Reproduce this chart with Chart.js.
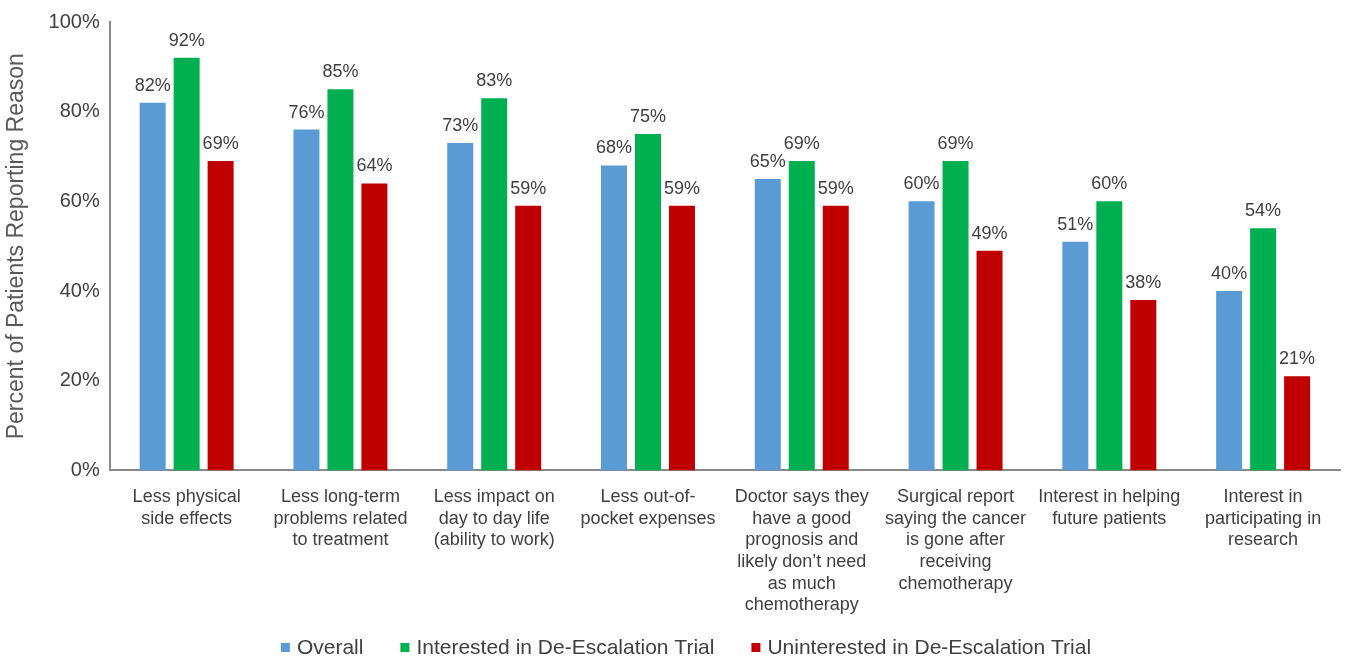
<!DOCTYPE html>
<html><head><meta charset="utf-8">
<script src="https://cdn.jsdelivr.net/npm/chart.js@4/dist/chart.umd.min.js"></script>
<style>html,body{margin:0;padding:0;background:#fff;}#wrap{width:1348px;height:665px;}</style>
</head><body><div id="wrap"><canvas id="c" width="1348" height="665"></canvas></div>
<script>
const categories = [
  ["Less physical", "side effects"],
  ["Less long-term", "problems related", "to treatment"],
  ["Less impact on", "day to day life", "(ability to work)"],
  ["Less out-of-", "pocket expenses"],
  ["Doctor says they", "have a good", "prognosis and", "likely don\u2019t need", "as much", "chemotherapy"],
  ["Surgical report", "saying the cancer", "is gone after", "receiving", "chemotherapy"],
  ["Interest in helping", "future patients"],
  ["Interest in", "participating in", "research"]
];
const overall = [82, 76, 73, 68, 65, 60, 51, 40];
const interested = [92, 85, 83, 75, 69, 69, 60, 54];
const uninterested = [69, 64, 59, 59, 59, 49, 38, 21];
const seriesNames = ["Overall", "Interested in De-Escalation Trial", "Uninterested in De-Escalation Trial"];
const yTicks = [0, 20, 40, 60, 80, 100];
const FONT = "'Liberation Sans', Arial, sans-serif";
const TXT = "#404040";

const labelPlugin = {
  id: 'valLabels',
  afterDatasetsDraw(chart) {
    const ctx = chart.ctx;
    ctx.save();
    ctx.font = "18px " + FONT;
    ctx.fillStyle = TXT;
    ctx.textAlign = 'center';
    ctx.textBaseline = 'bottom';
    chart.data.datasets.forEach((ds, i) => {
      chart.getDatasetMeta(i).data.forEach((bar, j) => {
        ctx.fillText(ds.data[j] + '%', bar.x, bar.y - 8);
      });
    });
    ctx.restore();
  }
};

// bottom legend drawn from the datasets (names + colours)
const legendPlugin = {
  id: 'bottomLegend',
  afterDraw(chart) {
    const ctx = chart.ctx;
    const sw = 9, textOff = 16, gap = 37, yc = 648, centerX = 686;
    ctx.save();
    ctx.font = "21px " + FONT;
    ctx.textBaseline = 'middle';
    ctx.textAlign = 'left';
    const items = chart.data.datasets.map(ds => ({ text: ds.label, color: ds.backgroundColor, w: ctx.measureText(ds.label).width }));
    const total = items.reduce((s, it) => s + textOff + it.w, 0) + gap * (items.length - 1);
    let x = centerX - total / 2;
    items.forEach(it => {
      ctx.fillStyle = it.color;
      ctx.fillRect(x, yc - 5, sw, sw);
      ctx.fillStyle = TXT;
      ctx.fillText(it.text, x + textOff, yc);
      x += textOff + it.w + gap;
    });
    ctx.restore();
  }
};

new Chart(document.getElementById('c'), {
  type: 'bar',
  data: {
    labels: categories,
    datasets: [
      { label: seriesNames[0], data: overall, backgroundColor: '#5B9BD5' },
      { label: seriesNames[1], data: interested, backgroundColor: '#00B050' },
      { label: seriesNames[2], data: uninterested, backgroundColor: '#C00000' }
    ]
  },
  options: {
    responsive: false,
    animation: false,
    devicePixelRatio: 1,
    layout: { padding: { left: 0, right: 8, top: -3, bottom: 33 } },
    datasets: { bar: { categoryPercentage: 0.663, barPercentage: 0.765 } },
    plugins: {
      legend: { display: false },
      tooltip: { enabled: false }
    },
    scales: {
      x: {
        grid: { display: false, drawTicks: false },
        border: { color: '#898989', width: 2 },
        ticks: {
          font: { family: FONT, size: 18, lineHeight: 1.2 },
          color: TXT,
          maxRotation: 0, minRotation: 0, autoSkip: false,
          padding: 16
        }
      },
      y: {
        min: 0, max: 100,
        grid: { display: false, drawTicks: false },
        border: { color: '#898989', width: 2 },
        afterBuildTicks(axis) { axis.ticks = yTicks.map(v => ({ value: v })); },
        ticks: {
          font: { family: FONT, size: 20 },
          color: TXT,
          padding: 10,
          callback: v => v + '%'
        },
        title: {
          display: true,
          text: 'Percent of Patients Reporting Reason',
          font: { family: FONT, size: 23 },
          color: '#595959',
          padding: { top: 3, bottom: 8 }
        }
      }
    }
  },
  plugins: [labelPlugin, legendPlugin]
});
</script></body></html>
